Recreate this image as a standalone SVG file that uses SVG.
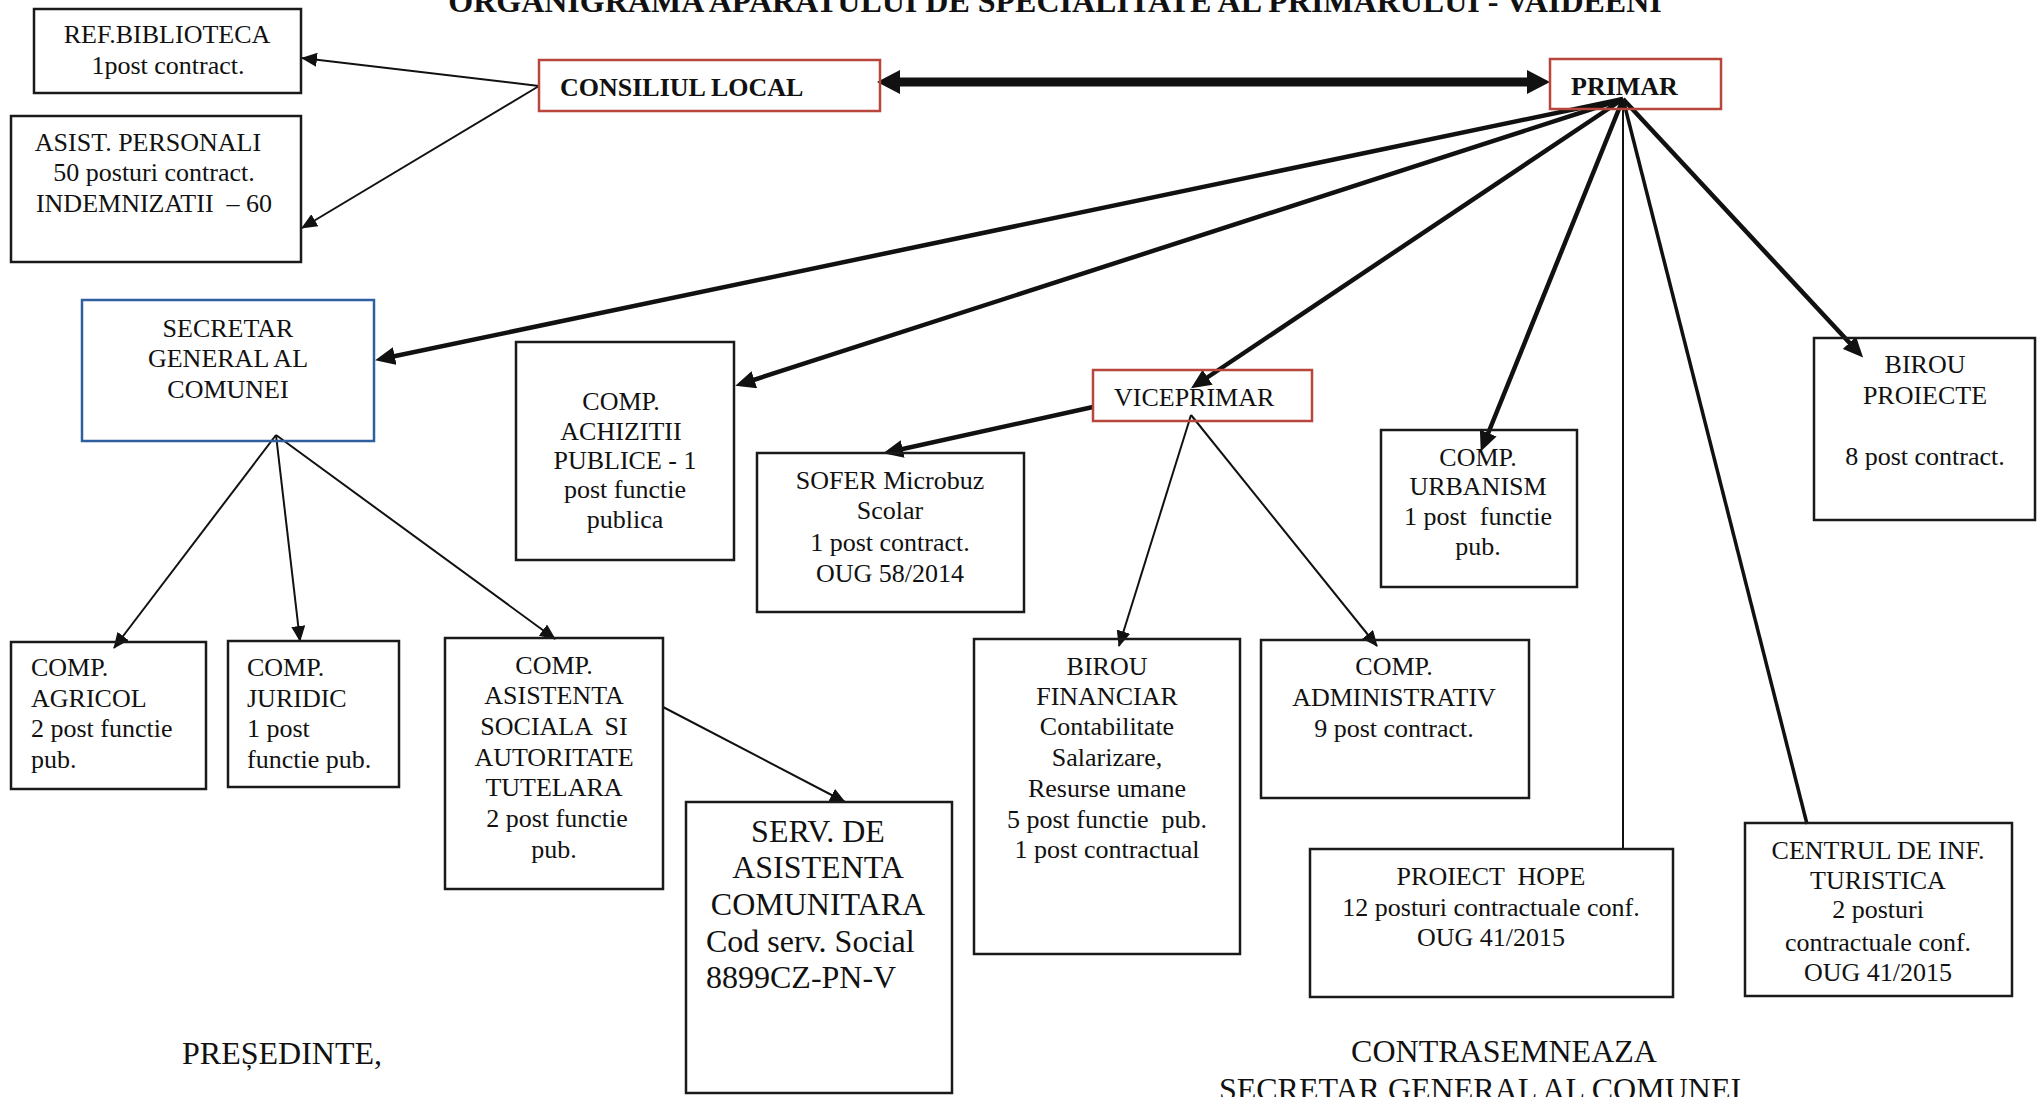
<svg xmlns="http://www.w3.org/2000/svg" width="2044" height="1097" viewBox="0 0 2044 1097">
<style>
.t{font-family:"Liberation Serif","Times New Roman",serif;font-size:26px;fill:#111}
.b{font-weight:bold}
.c{text-anchor:middle}
.big{font-size:32px}
.box{fill:none;stroke:#1a1a1a;stroke-width:2.5}
.red{fill:none;stroke:#b8463c;stroke-width:2.5}
.blue{fill:none;stroke:#2f5f9e;stroke-width:2.5}
.ln{fill:none;stroke:#111;stroke-width:2}
.lb{fill:none;stroke:#111;stroke-width:4.5}
</style>
<defs>
<marker id="arr" markerUnits="userSpaceOnUse" markerWidth="16" markerHeight="14" refX="15" refY="7" orient="auto"><path d="M0,0 L16,7 L0,14 Z" fill="#111"/></marker>
<marker id="arrB" markerUnits="userSpaceOnUse" markerWidth="20" markerHeight="18" refX="14" refY="9" orient="auto"><path d="M0,0 L20,9 L0,18 Z" fill="#111"/></marker>
<marker id="arrH" markerUnits="userSpaceOnUse" markerWidth="24" markerHeight="24" refX="0" refY="12" orient="auto-start-reverse"><path d="M0,0 L23,12 L0,24 Z" fill="#111"/></marker>
</defs>
<rect width="2044" height="1097" fill="#fff"/>
<text class="t b big c" x="1055" y="12">ORGANIGRAMA APARATULUI DE SPECIALITATE AL PRIMARULUI - VAIDEENI</text>

<g id="connectors">
<line class="ln" x1="539" y1="86" x2="302" y2="58" marker-end="url(#arr)"/>
<line class="ln" x1="539" y1="86" x2="302" y2="228" marker-end="url(#arr)"/>
<line x1="900" y1="82" x2="1527" y2="82" stroke="#111" stroke-width="9" marker-start="url(#arrH)" marker-end="url(#arrH)"/>
<line class="lb" x1="1623" y1="99" x2="381" y2="359" marker-end="url(#arrB)"/>
<line class="lb" x1="1623" y1="99" x2="741" y2="384" marker-end="url(#arrB)"/>
<line class="lb" x1="1623" y1="99" x2="1196" y2="385" marker-end="url(#arrB)"/>
<line class="lb" x1="1623" y1="99" x2="1483" y2="446" marker-end="url(#arrB)"/>
<line class="ln" x1="1623" y1="99" x2="1623" y2="849"/>
<line x1="1623" y1="99" x2="1807" y2="824" stroke="#111" stroke-width="3.5"/>
<line class="lb" x1="1623" y1="99" x2="1859" y2="353" marker-end="url(#arrB)"/>
<line class="lb" x1="1093" y1="407" x2="889" y2="452" marker-end="url(#arrB)"/>
<line class="ln" x1="1191" y1="415" x2="1119" y2="646" marker-end="url(#arr)"/>
<line class="ln" x1="1191" y1="415" x2="1377" y2="646" marker-end="url(#arr)"/>
<line class="ln" x1="276" y1="435" x2="114" y2="648" marker-end="url(#arr)"/>
<line class="ln" x1="276" y1="435" x2="300" y2="641" marker-end="url(#arr)"/>
<line class="ln" x1="276" y1="435" x2="555" y2="639" marker-end="url(#arr)"/>
<line class="ln" x1="663" y1="707" x2="845" y2="802" marker-end="url(#arr)"/>
</g>

<g id="ref-biblioteca">
<rect class="box" x="34" y="9" width="267" height="84"/>
<text class="t c" x="167" y="43">REF.BIBLIOTECA</text>
<text class="t c" x="168" y="74">1post contract.</text>
</g>
<g id="asist-personali">
<rect class="box" x="11" y="116" width="290" height="146"/>
<text class="t c" x="148" y="151">ASIST. PERSONALI</text>
<text class="t c" x="154" y="181">50 posturi contract.</text>
<text class="t c" x="154" y="212" xml:space="preserve">INDEMNIZATII  – 60</text>
</g>
<g id="consiliul-local">
<rect class="red" x="539" y="60" width="341" height="51"/>
<text class="t b" x="560" y="96">CONSILIUL LOCAL</text>
</g>
<g id="primar">
<rect class="red" x="1550" y="59" width="171" height="50"/>
<text class="t b" x="1571" y="95">PRIMAR</text>
</g>
<g id="secretar">
<rect class="blue" x="82" y="300" width="292" height="141"/>
<text class="t c" x="228" y="337">SECRETAR</text>
<text class="t c" x="228" y="367">GENERAL AL</text>
<text class="t c" x="228" y="398">COMUNEI</text>
</g>
<g id="achizitii">
<rect class="box" x="516" y="342" width="218" height="218"/>
<text class="t c" x="621" y="410">COMP.</text>
<text class="t c" x="621" y="440">ACHIZITII</text>
<text class="t c" x="625" y="469">PUBLICE - 1</text>
<text class="t c" x="625" y="498">post functie</text>
<text class="t c" x="625" y="528">publica</text>
</g>
<g id="viceprimar">
<rect class="red" x="1093" y="370" width="219" height="51"/>
<text class="t" x="1114" y="406">VICEPRIMAR</text>
</g>
<g id="sofer">
<rect class="box" x="757" y="453" width="267" height="159"/>
<text class="t c" x="890" y="489">SOFER Microbuz</text>
<text class="t c" x="890" y="519">Scolar</text>
<text class="t c" x="890" y="551">1 post contract.</text>
<text class="t c" x="890" y="582">OUG 58/2014</text>
</g>
<g id="urbanism">
<rect class="box" x="1381" y="430" width="196" height="157"/>
<text class="t c" x="1478" y="466">COMP.</text>
<text class="t c" x="1478" y="495">URBANISM</text>
<text class="t c" x="1478" y="525" xml:space="preserve">1 post  functie</text>
<text class="t c" x="1478" y="555">pub.</text>
</g>
<g id="birou-proiecte">
<rect class="box" x="1814" y="338" width="221" height="182"/>
<text class="t c" x="1925" y="373">BIROU</text>
<text class="t c" x="1925" y="404">PROIECTE</text>
<text class="t c" x="1925" y="465">8 post contract.</text>
</g>
<g id="agricol">
<rect class="box" x="11" y="642" width="195" height="147"/>
<text class="t" x="31" y="676">COMP.</text>
<text class="t" x="31" y="707">AGRICOL</text>
<text class="t" x="31" y="737">2 post functie</text>
<text class="t" x="31" y="768">pub.</text>
</g>
<g id="juridic">
<rect class="box" x="228" y="641" width="171" height="146"/>
<text class="t" x="247" y="676">COMP.</text>
<text class="t" x="247" y="707">JURIDIC</text>
<text class="t" x="247" y="737">1 post</text>
<text class="t" x="247" y="768">functie pub.</text>
</g>
<g id="asistenta-sociala">
<rect class="box" x="445" y="638" width="218" height="251"/>
<text class="t c" x="554" y="674">COMP.</text>
<text class="t c" x="554" y="704">ASISTENTA</text>
<text class="t c" x="554" y="735" xml:space="preserve">SOCIALA  SI</text>
<text class="t c" x="554" y="766">AUTORITATE</text>
<text class="t c" x="554" y="796">TUTELARA</text>
<text class="t c" x="557" y="827">2 post functie</text>
<text class="t c" x="554" y="858">pub.</text>
</g>
<g id="serv-asistenta">
<rect class="box" x="686" y="802" width="266" height="291"/>
<text class="t big c" x="818" y="842">SERV. DE</text>
<text class="t big c" x="818" y="878">ASISTENTA</text>
<text class="t big c" x="818" y="915">COMUNITARA</text>
<text class="t big" x="706" y="952">Cod serv. Social</text>
<text class="t big" x="706" y="988">8899CZ-PN-V</text>
</g>
<g id="birou-financiar">
<rect class="box" x="974" y="639" width="266" height="315"/>
<text class="t c" x="1107" y="675">BIROU</text>
<text class="t c" x="1107" y="705">FINANCIAR</text>
<text class="t c" x="1107" y="735">Contabilitate</text>
<text class="t c" x="1107" y="766">Salarizare,</text>
<text class="t c" x="1107" y="797">Resurse umane</text>
<text class="t c" x="1107" y="828" xml:space="preserve">5 post functie  pub.</text>
<text class="t c" x="1107" y="858">1 post contractual</text>
</g>
<g id="administrativ">
<rect class="box" x="1261" y="640" width="268" height="158"/>
<text class="t c" x="1394" y="675">COMP.</text>
<text class="t c" x="1394" y="706">ADMINISTRATIV</text>
<text class="t c" x="1394" y="737">9 post contract.</text>
</g>
<g id="proiect-hope">
<rect class="box" x="1310" y="849" width="363" height="148"/>
<text class="t c" x="1491" y="885" xml:space="preserve">PROIECT  HOPE</text>
<text class="t c" x="1491" y="916">12 posturi contractuale conf.</text>
<text class="t c" x="1491" y="946">OUG 41/2015</text>
</g>
<g id="centrul-turistica">
<rect class="box" x="1745" y="823" width="267" height="173"/>
<text class="t c" x="1878" y="859">CENTRUL DE INF.</text>
<text class="t c" x="1878" y="889">TURISTICA</text>
<text class="t c" x="1878" y="918">2 posturi</text>
<text class="t c" x="1878" y="951">contractuale conf.</text>
<text class="t c" x="1878" y="981">OUG 41/2015</text>
</g>
<text class="t big" x="182" y="1064">PREȘEDINTE,</text>
<text class="t big c" x="1504" y="1062">CONTRASEMNEAZA</text>
<text class="t big c" x="1484" y="1100">SECRETAR GENERAL AL COMUNEI,</text>
</svg>
